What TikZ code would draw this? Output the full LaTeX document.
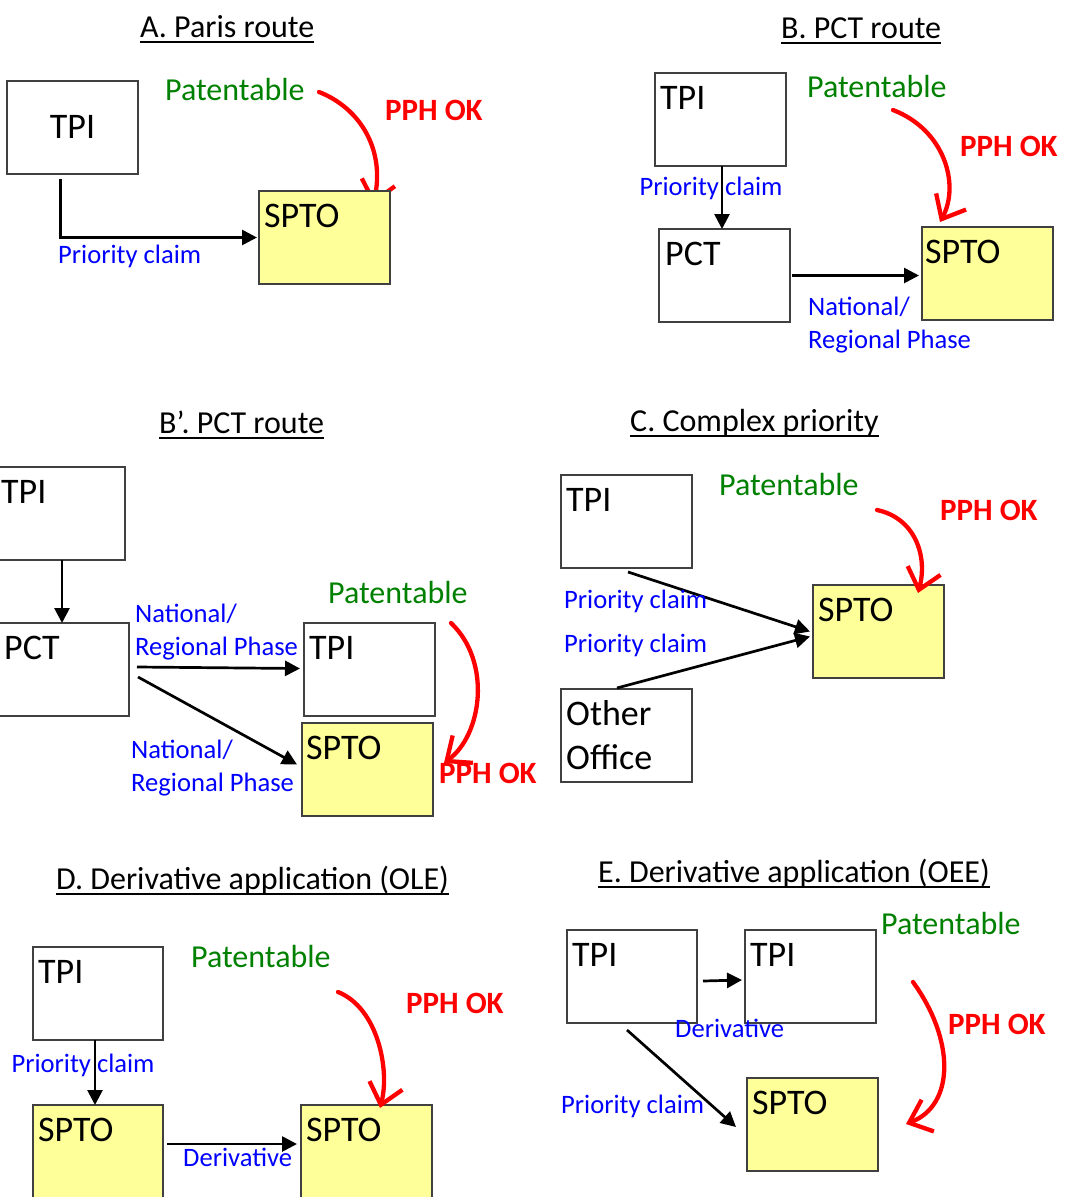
\documentclass[tikz,border=0pt]{standalone}
\usepackage{fontspec}
\setmainfont{Carlito}
\usetikzlibrary{arrows.meta,calc}
\definecolor{boxgray}{HTML}{404040}
\definecolor{pphyellow}{HTML}{FFFF99}
\definecolor{patgreen}{HTML}{008000}
\begin{document}
\begin{tikzpicture}[x=1pt,y=-1pt,
  box/.style={draw=boxgray, line width=1.3pt, inner sep=0pt, outer sep=0pt,
    minimum width=131pt, minimum height=93pt, anchor=north west},
  ybox/.style={box, fill=pphyellow},
  btext/.style={font=\fontsize{36}{44}\selectfont, inner sep=0pt, anchor=base west},
  lbl/.style={font=\fontsize{26.6}{33}\selectfont, text=blue, inner sep=0pt, anchor=base west},
  pat/.style={font=\fontsize{32}{38}\selectfont, text=patgreen, inner sep=0pt, anchor=base west},
  pphok/.style={font=\bfseries\fontsize{31}{38}\selectfont, text=red, inner sep=0pt, anchor=base west},
  ttl/.style={font=\fontsize{32}{38}\selectfont, inner sep=0pt, anchor=base west},
  uline/.style={line width=2pt},
  arr/.style={line width=2.7pt, -{Triangle[length=15pt,width=15pt]}},
  rarr/.style={draw=red, line width=4.3pt, line cap=round, -{Straight Barb[length=20pt,width=34pt]}},
]
\useasboundingbox (0,0) rectangle (1065,1197);
\clip (0,0) rectangle (1065,1197);

% ---------------- A ----------------
\node[ttl] (tA) at (140,37) {A. Paris route};
\draw[uline] ([yshift=-5pt]tA.base west) -- ([yshift=-5pt]tA.base east);
\node[box] (tpiA) at (7,81) {};
\node[btext, anchor=base] at ([shift={(0,11)}]tpiA.center) {TPI};
\coordinate (rA) at (319,92);
\coordinate (eA) at (373,205);
\draw[rarr] (rA) .. controls (360,108) and (386,150) .. (eA);
\node[ybox] (spA) at (259,191) {};
\node[btext] at ([shift={(5,36)}]spA.north west) {SPTO};
\draw[arr] ([shift={(-12,5)}]tpiA.south) |- ([xshift=-2pt]spA.west);
\node[lbl] at (58,263) {Priority claim};
\node[pat] at (165,100) {Patentable};
\node[pphok] at (385,120) {PPH OK};

% ---------------- B ----------------
\node[ttl] (tB) at (781,38) {B. PCT route};
\draw[uline] ([yshift=-5pt]tB.base west) -- ([yshift=-5pt]tB.base east);
\node[box] (tpiB) at (655,73) {};
\node[btext] at ([shift={(5,36)}]tpiB.north west) {TPI};
\node[box] (pctB) at (659,229) {};
\node[btext] at ([shift={(6,36)}]pctB.north west) {PCT};
\node[ybox] (spB) at (922,227) {};
\node[btext] at ([shift={(3,36)}]spB.north west) {SPTO};
\draw[arr] ([xshift=1.5pt]tpiB.south) -- ([xshift=1.5pt]tpiB.south |- pctB.north);
\node[lbl, anchor=base] at (711,195) {Priority claim};
\draw[arr] ([xshift=2pt]pctB.east) -- ([xshift=-3pt]pctB.east -| spB.west);
\node[lbl] at (808,315) {National/};
\node[lbl] at (808,348) {Regional Phase};
\node[pat] at (807,97) {Patentable};
\node[pphok] at (960,156) {PPH OK};
\coordinate (rB) at (893,110);
\draw[rarr] (rB) .. controls (945,130) and (960,185) .. ([shift={(18,-5)}]spB.north west);

% ---------------- B' ----------------
\node[ttl] (tBp) at (159,433) {B’. PCT route};
\draw[uline] ([yshift=-5pt]tBp.base west) -- ([yshift=-5pt]tBp.base east);
\node[box, minimum width=130pt] (tpiBp) at (-5,467) {};
\node[btext] at ([shift={(6,36)}]tpiBp.north west) {TPI};
\node[box, minimum width=134pt] (pctBp) at (-5,623) {};
\node[btext] at ([shift={(9,36)}]pctBp.north west) {PCT};
\node[box] (tpi2Bp) at (304,623) {};
\node[btext] at ([shift={(5,36)}]tpi2Bp.north west) {TPI};
\node[ybox] (spBp) at (302,723) {};
\node[btext] at ([shift={(4,36)}]spBp.north west) {SPTO};
\draw[arr] ([xshift=2pt]tpiBp.south) -- ([xshift=2pt]tpiBp.south |- pctBp.north);
\draw[arr] ([shift={(8,-2.5)}]pctBp.east) -- ([shift={(-4,-1)}]tpi2Bp.west);
\draw[arr] ([shift={(9,7.5)}]pctBp.east) -- ([shift={(-5,-5)}]spBp.west);
\node[lbl] at (135,622) {National/};
\node[lbl] at (135,655) {Regional Phase};
\node[lbl] at (131,758) {National/};
\node[lbl] at (131,791) {Regional Phase};
\node[pat] at (328,603) {Patentable};
\node[pphok] at (439,783) {PPH OK};
\coordinate (rBp) at (451,623);
\draw[rarr] (rBp) .. controls (492,662) and (482,735) .. ([shift={(142,40)}]spBp.north west);

% ---------------- C ----------------
\node[ttl] (tC) at (630,431) {C. Complex priority};
\draw[uline] ([yshift=-5pt]tC.base west) -- ([yshift=-5pt]tC.base east);
\node[box] (tpiC) at (561,475) {};
\node[btext] at ([shift={(5,36)}]tpiC.north west) {TPI};
\node[box] (othC) at (561,689) {};
\node[btext] at ([shift={(5,36)}]othC.north west) {Other};
\node[btext] at ([shift={(5,80)}]othC.north west) {Office};
\node[ybox] (spC) at (813,585) {};
\node[btext] at ([shift={(5,36)}]spC.north west) {SPTO};
\draw[arr] ([shift={(1.5,4)}]tpiC.south) -- ([shift={(-3,0)}]spC.west);
\draw[arr] ([shift={(-9.5,-1)}]othC.north) -- ([shift={(-3,5)}]spC.west);
\node[lbl] at (564,608) {Priority claim};
\node[lbl] at (564,652) {Priority claim};
\node[pat] at (719,495) {Patentable};
\node[pphok] at (940,520) {PPH OK};
\coordinate (rC) at (877,510);
\draw[rarr] (rC) .. controls (915,518) and (928,556) .. ([shift={(105,8)}]spC.north west);

% ---------------- D ----------------
\node[ttl] (tD) at (56,889) {D. Derivative application (OLE)};
\draw[uline] ([yshift=-5pt]tD.base west) -- ([yshift=-5pt]tD.base east);
\node[box, minimum width=130pt] (tpiD) at (33,947) {};
\node[btext] at ([shift={(5,36)}]tpiD.north west) {TPI};
\node[ybox, minimum width=130pt, minimum height=110pt] (spD1) at (33,1105) {};
\node[btext] at ([shift={(5,36)}]spD1.north west) {SPTO};
\node[ybox, minimum height=110pt] (spD2) at (301,1105) {};
\node[btext] at ([shift={(5,36)}]spD2.north west) {SPTO};
\draw[arr] ([xshift=-3pt]tpiD.south) -- ([xshift=-3pt]tpiD.south |- spD1.north);
\node[lbl, anchor=base] at (83,1072) {Priority claim};
\draw[arr] ([shift={(4,39)}]spD1.north east) -- ([shift={(-4,39)}]spD2.north west);
\node[lbl] at (183,1166) {Derivative};
\node[pat] at (191,967) {Patentable};
\node[pphok] at (406,1013) {PPH OK};
\coordinate (rD) at (338,992);
\draw[rarr] (rD) .. controls (378,1008) and (390,1070) .. ([shift={(79,3)}]spD2.north west);

% ---------------- E ----------------
\node[ttl] (tE) at (598,882) {E. Derivative application (OEE)};
\draw[uline] ([yshift=-5pt]tE.base west) -- ([yshift=-5pt]tE.base east);
\node[box, minimum width=130pt] (tpiE1) at (567,930) {};
\node[btext] at ([shift={(5,36)}]tpiE1.north west) {TPI};
\node[box] (tpiE2) at (745,930) {};
\node[btext] at ([shift={(5,36)}]tpiE2.north west) {TPI};
\node[ybox] (spE) at (747,1078) {};
\node[btext] at ([shift={(5,36)}]spE.north west) {SPTO};
\draw[arr] ([shift={(6,4.5)}]tpiE1.east) -- ([shift={(-3,3.5)}]tpiE2.west);
\draw[arr] ([shift={(-5,7)}]tpiE1.south) -- ([shift={(-11,2.5)}]spE.west);
\node[lbl] at (675,1037) {Derivative};
\node[lbl] at (561,1113) {Priority claim};
\node[pat] at (881,934) {Patentable};
\node[pphok] at (948,1034) {PPH OK};
\coordinate (rE) at (913,982);
\draw[rarr] (rE) .. controls (955,1040) and (955,1105) .. ([shift={(28,46)}]spE.north east);
\end{tikzpicture}
\end{document}
